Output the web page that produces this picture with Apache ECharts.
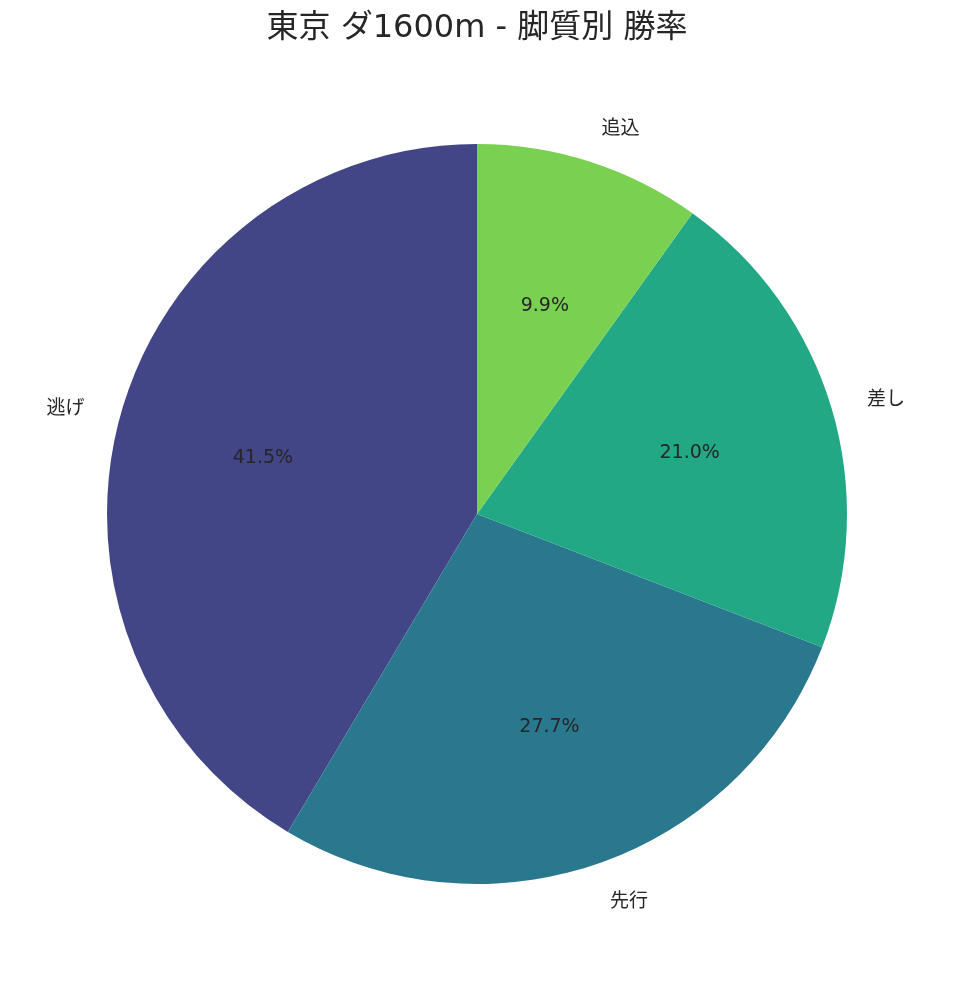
<!DOCTYPE html>
<html><head><meta charset="utf-8">
<script src="https://cdn.jsdelivr.net/npm/echarts@6/dist/echarts.min.js"></script>
<style>html,body{margin:0;padding:0;background:#fff}#c{width:954px;height:992px}</style>
</head><body><div id="c"></div>
<script>
const categories = ['逃げ', '先行', '差し', '追込'];
const values = [41.5, 27.7, 21.0, 9.9];
const colors = ['#424586', '#2a788e', '#22a884', '#7ad151'];
const titleText = '東京 ダ1600m - 脚質別 勝率';

const FONT = '"DejaVu Sans", "Noto Sans CJK JP", sans-serif';
const R = 370;
const center = [477, 514];
const labelCenter = [477, 517];
const chart = echarts.init(document.getElementById('c'));
const main = categories.map((c, i) => ({ name: c, value: values[i], itemStyle: { color: colors[i] } }));
const ghost = categories.map((c, i) => ({ name: c, value: values[i] }));
chart.setOption({
  animation: false,
  title: { text: titleText, left: 'center', top: 8, textStyle: { fontFamily: FONT, fontSize: 32, fontWeight: 'normal', color: '#262626' } },
  series: [
    {
      type: 'pie', center: center, radius: [0, R], startAngle: 90, clockwise: false,
      avoidLabelOverlap: false, silent: true,
      data: main,
      itemStyle: { borderWidth: 0 },
      label: { show: false },
      labelLine: { show: false }
    },
    {
      type: 'pie', center: labelCenter, radius: [0, R], startAngle: 90, clockwise: false,
      avoidLabelOverlap: false, silent: true,
      data: ghost,
      itemStyle: { color: 'rgba(0,0,0,0)', borderWidth: 0 },
      label: { show: true, position: 'outside', fontFamily: FONT, fontSize: 19, color: '#262626', formatter: '{b}', distanceToLabelLine: 0 },
      labelLine: { show: false, length: R * 0.1, length2: 0 }
    },
    {
      type: 'pie', center: labelCenter, radius: [0, R * 1.2 - 6], startAngle: 90, clockwise: false,
      avoidLabelOverlap: false, silent: true,
      data: ghost,
      itemStyle: { color: 'rgba(0,0,0,0)', borderWidth: 0 },
      label: { show: true, position: 'inside', fontFamily: FONT, fontSize: 19, color: '#262626',
        formatter: p => p.value.toFixed(1) + '%' },
      labelLine: { show: false }
    }
  ]
});
</script></body></html>
